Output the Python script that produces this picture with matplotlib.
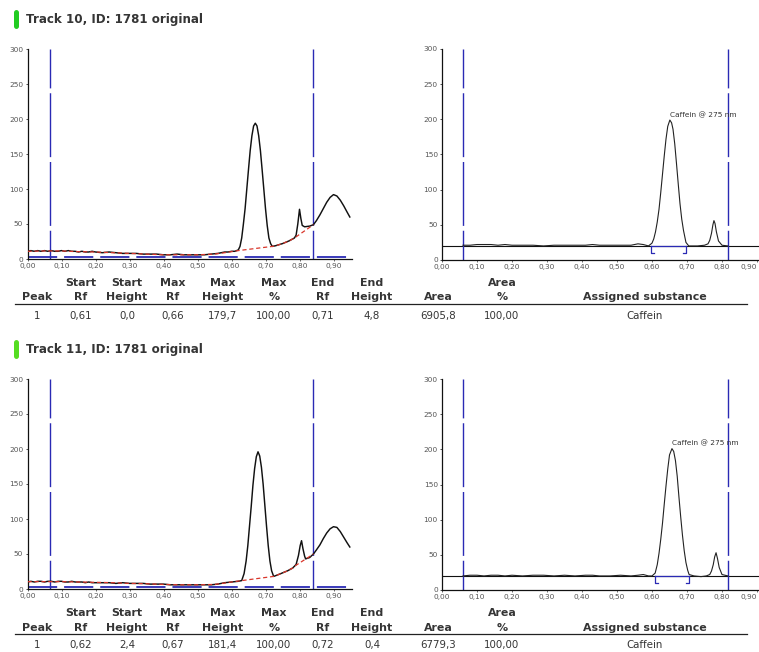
import matplotlib
matplotlib.use("Agg")
import matplotlib.pyplot as plt
from matplotlib.lines import Line2D

plt.rcParams['font.family'] = ['DejaVu Sans']
plt.rcParams['lines.scale_dashes'] = False

# ---------------- data ----------------
track_titles = ["Track 10, ID: 1781 original", "Track 11, ID: 1781 original"]

y_ticks = [0, 50, 100, 150, 200, 250, 300]
x_ticks = [0.0, 0.1, 0.2, 0.3, 0.4, 0.5, 0.6, 0.7, 0.8, 0.9]
x_tick_labels = ["0,00", "0,10", "0,20", "0,30", "0,40", "0,50", "0,60", "0,70", "0,80", "0,90"]

# Track 10 - raw densitogram (left)
t10_raw_rf = [0.000, 0.010, 0.020, 0.030, 0.040, 0.050, 0.060, 0.070, 0.080, 0.090, 0.100,
              0.110, 0.120, 0.130, 0.140, 0.150, 0.160, 0.170, 0.180, 0.190, 0.200,
              0.220, 0.240, 0.260, 0.280, 0.300, 0.320, 0.340, 0.360, 0.380, 0.400,
              0.420, 0.440, 0.460, 0.480, 0.500, 0.520, 0.540,
              0.560, 0.570, 0.580, 0.590, 0.600, 0.610, 0.620,
              0.625, 0.630, 0.635, 0.640, 0.645, 0.650, 0.655, 0.660, 0.665, 0.670,
              0.675, 0.680, 0.685, 0.690, 0.695, 0.700, 0.705, 0.710, 0.715, 0.720,
              0.730, 0.750, 0.770, 0.785, 0.790,
              0.795, 0.800, 0.804, 0.808, 0.815, 0.830, 0.841,
              0.850, 0.860, 0.870, 0.880, 0.890, 0.900, 0.910, 0.920, 0.930, 0.940, 0.948]
t10_raw_h = [11, 12, 11, 12, 11, 12, 11, 12, 11, 11, 12,
             11, 12, 11, 11, 10, 11, 10, 10, 11, 10,
             9, 10, 9, 8, 8, 8, 7, 7, 7, 6,
             6, 7, 6, 6, 6, 6, 7,
             8, 9, 10, 10, 11, 11, 13,
             18, 30, 50, 72, 100, 128, 155, 176, 190, 194,
             190, 176, 155, 128, 100, 72, 48, 30, 22, 18,
             19, 22, 26, 30, 34,
             50, 71, 58, 48, 46, 47, 49,
             55, 63, 72, 81, 88, 92, 90, 84, 76, 67, 60]
t10_base_rf = [0.00, 0.05, 0.10, 0.15, 0.20, 0.25, 0.30, 0.35, 0.40, 0.45, 0.50, 0.55, 0.58,
               0.60, 0.62, 0.72, 0.73, 0.75, 0.77, 0.785, 0.841]
t10_base_h = [11, 11.5, 11.5, 10.5, 10, 9, 8, 7, 6, 6, 6, 7, 9,
              10.5, 12, 18, 19, 22, 26, 30, 49]
t10_window_raw = [0.065, 0.841]
t10_solvent_front = 3.5

# Track 10 - baseline corrected (right)
t10_corr_rf = [0.060, 0.080, 0.100, 0.120, 0.140, 0.160, 0.180, 0.200,
               0.230, 0.260, 0.290, 0.320, 0.350, 0.380, 0.410,
               0.430, 0.450, 0.480, 0.510, 0.540,
               0.560, 0.575, 0.590, 0.600,
               0.605, 0.610, 0.615, 0.620, 0.625, 0.630, 0.635, 0.640, 0.645, 0.651,
               0.656, 0.660, 0.665, 0.670, 0.675, 0.680, 0.685, 0.690, 0.697, 0.705,
               0.730, 0.750, 0.760, 0.765, 0.770, 0.774, 0.777, 0.780, 0.784, 0.790, 0.800, 0.817]
t10_corr_h = [21, 21, 22, 22, 22, 21, 22, 21,
              21, 21, 20, 21, 21, 21, 21,
              22, 21, 21, 21, 21,
              23, 22, 20, 24,
              30, 40, 54, 72, 96, 122, 148, 172, 190, 199,
              195, 186, 165, 137, 108, 80, 58, 42, 25, 20,
              20, 21, 23, 28, 38, 50, 56, 52, 40, 27, 21, 20]
t10_window_corr = [0.06, 0.817]
t10_peak_bounds = [0.597, 0.697]

# Track 11 - raw densitogram (left)
t11_raw_rf = [0.000, 0.010, 0.020, 0.030, 0.040, 0.050, 0.060, 0.070, 0.080, 0.090, 0.100,
              0.110, 0.120, 0.130, 0.140, 0.150, 0.160, 0.170, 0.180, 0.190, 0.200,
              0.220, 0.240, 0.260, 0.280, 0.300, 0.320, 0.340, 0.360, 0.380, 0.400,
              0.420, 0.440, 0.460, 0.480, 0.500, 0.520, 0.540,
              0.560, 0.580, 0.600, 0.620, 0.630,
              0.637, 0.643, 0.648, 0.653, 0.658, 0.663, 0.668, 0.673, 0.678,
              0.683, 0.688, 0.693, 0.698, 0.703, 0.708, 0.713, 0.718, 0.724,
              0.735, 0.750, 0.765, 0.780, 0.790, 0.797,
              0.802, 0.806, 0.810, 0.815, 0.818, 0.830, 0.841,
              0.850, 0.860, 0.870, 0.880, 0.890, 0.900, 0.910, 0.920, 0.930, 0.940, 0.948]
t11_raw_h = [10, 11, 10, 11, 11, 10, 11, 11, 10, 11, 11,
             10, 10, 11, 10, 10, 10, 9, 10, 9, 9,
             9, 9, 8, 9, 8, 8, 8, 7, 7, 7,
             6, 6, 6, 6, 6, 6, 6,
             7, 9, 10, 11, 12,
             22, 40, 62, 90, 118, 148, 172, 189, 196,
             190, 174, 150, 120, 90, 62, 40, 26, 18,
             20, 23, 26, 30, 35, 48,
             62, 69, 58, 47, 43, 45, 50,
             56, 63, 72, 80, 86, 89, 88, 82, 74, 66, 60]
t11_base_rf = [0.00, 0.05, 0.10, 0.15, 0.20, 0.25, 0.30, 0.35, 0.40, 0.45, 0.50, 0.55, 0.58,
               0.60, 0.63, 0.724, 0.735, 0.75, 0.765, 0.78, 0.79, 0.841]
t11_base_h = [10.5, 10.5, 10.5, 10, 9.5, 9, 8, 7.5, 6.5, 6, 6, 6.5, 8.5,
              10, 12, 18, 20, 23, 26, 30, 34, 50]
t11_window_raw = [0.065, 0.841]
t11_solvent_front = 3.5

# Track 11 - baseline corrected (right)
t11_corr_rf = [0.060, 0.080, 0.100, 0.120, 0.140, 0.160, 0.180, 0.200,
               0.230, 0.260, 0.290, 0.320, 0.350, 0.380, 0.410,
               0.430, 0.450, 0.480, 0.510, 0.540,
               0.560, 0.575, 0.590, 0.600,
               0.609, 0.615, 0.620, 0.625, 0.630, 0.635, 0.640, 0.645, 0.650, 0.657,
               0.662, 0.667, 0.672, 0.677, 0.682, 0.687, 0.692, 0.697, 0.702, 0.706,
               0.720, 0.740, 0.755, 0.765, 0.770, 0.775, 0.779, 0.783, 0.787, 0.792, 0.800, 0.817]
t11_corr_h = [20, 21, 21, 20, 21, 21, 20, 21,
              20, 21, 21, 20, 21, 20, 21,
              21, 20, 20, 21, 20,
              21, 22, 20, 20,
              24, 36, 52, 72, 95, 122, 148, 172, 192, 201,
              197, 184, 162, 132, 104, 78, 56, 39, 28, 22,
              20, 19, 20, 22, 27, 36, 47, 53, 45, 32, 22, 20]
t11_window_corr = [0.06, 0.817]
t11_peak_bounds = [0.609, 0.706]

corrected_offset = 20
substance_label = "Caffein @ 275 nm"

header_top = ["", "Start", "Start", "Max", "Max", "Max", "End", "End", "", "Area", ""]
header_bottom = ["Peak", "Rf", "Height", "Rf", "Height", "%", "Rf", "Height", "Area", "%",
                 "Assigned substance"]
t10_row = ["1", "0,61", "0,0", "0,66", "179,7", "100,00", "0,71", "4,8", "6905,8", "100,00", "Caffein"]
t11_row = ["1", "0,62", "2,4", "0,67", "181,4", "100,00", "0,72", "0,4", "6779,3", "100,00", "Caffein"]

# ---------------- layout ----------------
W, H, DPI = 759, 652, 100
fig = plt.figure(figsize=(W / DPI, H / DPI), dpi=DPI)
fig.patch.set_facecolor("white")

BLUE = "#2a2ab4"
RED = "#d9362b"
TXT = "#353535"
TICKC = "#555555"
col_x = [37, 81, 127, 173, 223, 274, 323, 372, 438, 502, 645]
VDASH = (18, (46, 3.5))


def add_axes_px(x0, y_top, x1, y_bot):
    return fig.add_axes([x0 / W, 1 - y_bot / H, (x1 - x0) / W, (y_bot - y_top) / H])


def style_axes(ax):
    for s in ("top", "right"):
        ax.spines[s].set_visible(False)
    for s in ("left", "bottom"):
        ax.spines[s].set_linewidth(0.9)
        ax.spines[s].set_color("#111111")
    ax.set_ylim(0, 300)
    ax.set_xlim(0, 0.955)
    ax.set_yticks(y_ticks)
    ax.set_yticklabels([str(v) for v in y_ticks])
    ax.set_xticks(x_ticks)
    ax.set_xticklabels(x_tick_labels)
    ax.tick_params(axis="y", length=1.8, width=0.6, pad=1.2, labelsize=5.3, labelcolor=TICKC, color="#333333")
    ax.tick_params(axis="x", length=1.2, width=0.5, pad=1.8, labelsize=5.3, labelcolor=TICKC, color="#333333")
    ax.patch.set_alpha(0)


blocks = [
    dict(title=track_titles[0], ty=19, left_top=49, left_bot=259, right_top=49, right_bot=260,
         r1=283, r2=297, line=304, data=316, row=t10_row,
         raw=(t10_raw_rf, t10_raw_h), base=(t10_base_rf, t10_base_h), win=t10_window_raw,
         sf=t10_solvent_front, corr=(t10_corr_rf, t10_corr_h), winc=t10_window_corr,
         pb=t10_peak_bounds, green="#22cc22"),
    dict(title=track_titles[1], ty=349, left_top=379, left_bot=589, right_top=379, right_bot=590,
         r1=613, r2=628, line=634, data=645, row=t11_row,
         raw=(t11_raw_rf, t11_raw_h), base=(t11_base_rf, t11_base_h), win=t11_window_raw,
         sf=t11_solvent_front, corr=(t11_corr_rf, t11_corr_h), winc=t11_window_corr,
         pb=t11_peak_bounds, green="#55dd22"),
]

for b in blocks:
    # title with green marker
    fig.add_artist(Line2D([15.5 / W, 15.5 / W], [1 - (b["ty"] - 7) / H, 1 - (b["ty"] + 7) / H],
                          transform=fig.transFigure, lw=3.6, color=b["green"], solid_capstyle="round"))
    fig.text(26 / W, 1 - b["ty"] / H, b["title"], fontsize=8.6, fontweight="bold", color=TXT,
             ha="left", va="center")

    # ---- left: raw densitogram ----
    axl = add_axes_px(27.5, b["left_top"], 27.5 + 0.955 * 340, b["left_bot"])
    style_axes(axl)
    for xv in b["win"]:
        axl.plot([xv, xv], [300, 0], color=BLUE, lw=1.0, linestyle=VDASH, dash_capstyle="butt",
                 clip_on=False, zorder=2)
    axl.plot([0, 0.955], [b["sf"], b["sf"]], color=BLUE, lw=1.3, dashes=(21, 5), zorder=2)
    axl.plot(b["raw"][0], b["raw"][1], color="#111111", lw=1.05, zorder=3)
    axl.plot(b["base"][0], b["base"][1], color=RED, lw=0.9, dashes=(3, 2), zorder=4)

    # ---- right: corrected densitogram ----
    axr = add_axes_px(442, b["right_top"], 442 + 0.955 * 350, b["right_bot"])
    style_axes(axr)
    # keep the last tick label inside the picture, as the reference does
    axr.get_xticklabels()[-1].set_horizontalalignment("right")
    axr.axhline(corrected_offset, color="#111111", lw=0.8, zorder=2)
    for xv in b["winc"]:
        axr.plot([xv, xv], [300, 0], color=BLUE, lw=1.0, linestyle=VDASH, clip_on=False, zorder=2)
    p0, p1 = b["pb"]
    axr.plot([p0, p1], [corrected_offset, corrected_offset], color=BLUE, lw=0.9, zorder=3)
    axr.plot([p0 + 0.008, p0, p0], [10, 10, corrected_offset], color=BLUE, lw=0.9, zorder=3)
    axr.plot([p1 - 0.008, p1, p1], [10, 10, corrected_offset], color=BLUE, lw=0.9, zorder=3)
    axr.plot(b["corr"][0], b["corr"][1], color="#222222", lw=0.8, zorder=4)
    hmax = max(b["corr"][1])
    xmax = b["corr"][0][b["corr"][1].index(hmax)]
    axr.annotate(substance_label, xy=(xmax, hmax), xytext=(0, 1.5), textcoords="offset points",
                 fontsize=5.3, color="#333333", ha="left", va="bottom")

    # ---- table ----
    for cx, t1, t2, tv in zip(col_x, header_top, header_bottom, b["row"]):
        if t1:
            fig.text(cx / W, 1 - b["r1"] / H, t1, fontsize=7.9, fontweight="bold", color=TXT,
                     ha="center", va="center")
        fig.text(cx / W, 1 - b["r2"] / H, t2, fontsize=7.9, fontweight="bold", color=TXT,
                 ha="center", va="center")
        fig.text(cx / W, 1 - b["data"] / H, tv, fontsize=7.4, color=TXT, ha="center", va="center")
    fig.add_artist(Line2D([15 / W, 747 / W], [1 - b["line"] / H, 1 - b["line"] / H],
                          transform=fig.transFigure, lw=0.9, color="#222222"))

fig.savefig("out.png", dpi=DPI)
